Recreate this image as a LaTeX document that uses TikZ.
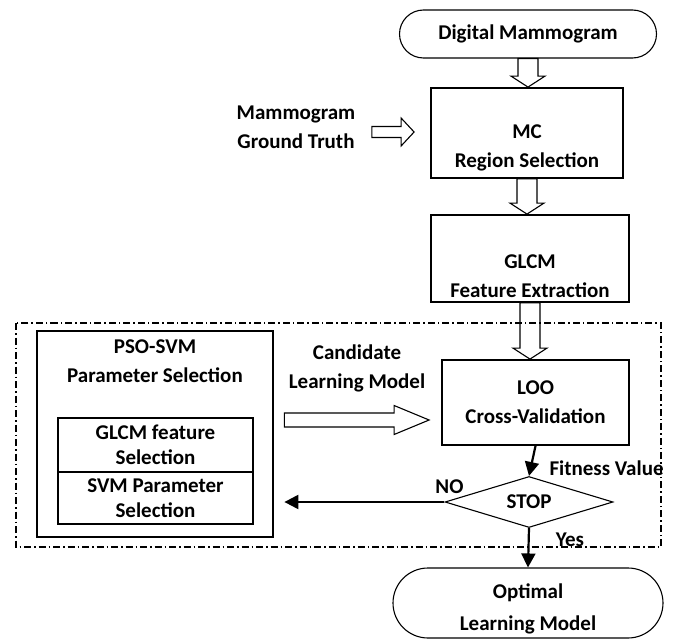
\documentclass[tikz,border=0pt]{standalone}
\usepackage{fontspec}
\setmainfont{Carlito}
\usetikzlibrary{arrows.meta}
\usetikzlibrary{calc}
\usetikzlibrary{shapes.geometric}
\usetikzlibrary{shapes.misc}

\tikzset{
  procbox/.style={draw, line width=1.8pt, inner sep=0pt},
  selbox/.style={draw, line width=1.1pt, inner sep=0pt, minimum width=195pt,
    font=\fontsize{21}{25}\selectfont\bfseries},
  terminal/.style={draw, rounded rectangle, line width=1.1pt, inner sep=0pt},
  hollow/.style={draw, line width=1.1pt},
  flow/.style={line width=2.2pt, -{Triangle[length=14pt, width=14pt]}},
}

\newcommand{\vblock}[2]{%
  \draw [hollow] let \p1 = (#1), \p2 = (#2) in
    (\x1-10pt, \y1) -- (\x1-10pt, \y2+11pt) -- (\x1-17pt, \y2+11pt) -- (\x1, \y2)
    -- (\x1+17pt, \y2+11pt) -- (\x1+10pt, \y2+11pt) -- (\x1+10pt, \y1) -- cycle;
}
\newcommand{\hblock}[5]{%
  \draw [hollow] let \p1 = (#1), \p2 = (#2) in
    (\x1, \y1-#3) -- (\x2-#5, \y1-#3) -- (\x2-#5, \y1-#4) -- (\x2, \y1)
    -- (\x2-#5, \y1+#4) -- (\x2-#5, \y1+#3) -- (\x1, \y1+#3) -- cycle;
}

\begin{document}
\begin{tikzpicture}[x=1pt, y=-1pt, font=\fontsize{21}{29}\selectfont\bfseries,
  every node/.append style={align=center}]
  \useasboundingbox (0, 0) rectangle (680, 642);

  \draw [line width=1.1pt, dash pattern=on 7pt off 3pt on 1.5pt off 3pt]
    (16, 323) rectangle (661, 547);

  \node [terminal, minimum width=257pt, minimum height=48pt] (dm) at (528, 34) {Digital Mammogram};

  \node [procbox, minimum width=192pt, minimum height=90pt] (mc) at (527, 133) {};
  \node (mctext) at (527, 148) {MC\\Region Selection};
  \node (gt) at (296, 127.5) {Mammogram\\Ground Truth};

  \node [procbox, minimum width=198pt, minimum height=87pt] (glcm) at (530, 258.5) {};
  \node (glcmtext) at (530, 276) {GLCM\\Feature Extraction};

  \node [procbox, minimum width=187pt, minimum height=85pt] (loo) at (535.5, 402.5) {LOO\\Cross-Validation};
  \node [draw, diamond, line width=1.1pt, inner sep=0pt, aspect=3.3,
    minimum width=168pt, minimum height=51pt] (stop) at (529, 502) {STOP};
  \node [terminal, minimum width=270pt, minimum height=70pt] (opt) at (528, 603) {};
  \node (opttext) at (528, 609) {Optimal\\[3pt]Learning Model};

  \node [procbox, line width=2.8pt, minimum width=236pt, minimum height=206pt] (pso) at (155, 434) {};
  \node (psotext) at (155, 361.5) {PSO-SVM\\Parameter Selection};
  \node [selbox, minimum height=54pt] (glcmsel) at (155.5, 445) {GLCM feature\\Selection};
  \node [selbox, minimum height=52pt] (svmsel) at (155.5, 498) {SVM Parameter\\Selection};
  \node (cand) at (357, 368) {Candidate\\Learning Model};

  \node [anchor=west] (fit) at (546, 468) {Fitness Value};
  \node (no) at (449.5, 487) {NO};
  \node (yes) at (570, 540) {Yes};

  \vblock{dm.south}{mc.north}
  \vblock{mc.south}{glcm.north}
  \vblock{glcm.south}{loo.north}
  \hblock{[xshift=13pt, yshift=-4.5pt]gt.east}{[xshift=-16pt]mc.west}{5.5pt}{14pt}{13pt}
  \hblock{[xshift=10pt, yshift=14pt]pso.east}{[xshift=-12pt]loo.west}{7pt}{14.5pt}{35pt}

  \draw [flow] (loo.south) -- (stop.north);
  \draw [flow, shorten >=10pt] (stop.west) -- (pso.east |- stop.west);
  \draw [flow] (stop.south) -- (opt.north);
\end{tikzpicture}
\end{document}
